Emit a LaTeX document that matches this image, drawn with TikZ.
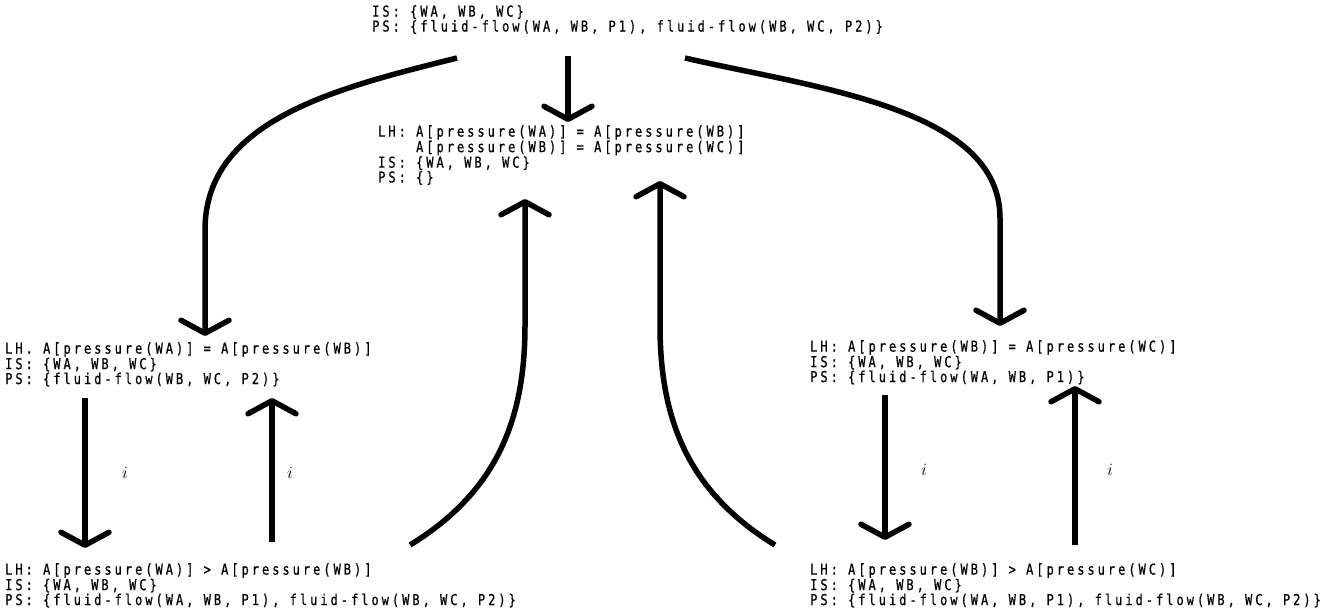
\documentclass[tikz,border=0pt]{standalone}
\usepackage{fontspec}
\setmonofont[FakeStretch=0.8,LetterSpace=20,FakeBold=0.6]{DejaVu Sans Mono}
\usetikzlibrary{arrows.meta}
\usetikzlibrary{calc}

\begin{document}
\begin{tikzpicture}[x=1pt,y=-1pt,
  state/.style={anchor=north west,inner sep=0pt,align=left,font=\ttfamily\fontsize{15}{12.5}\selectfont},
  link/.style={line width=5.5pt,-{Straight Barb[length=13pt,width=48pt,round]}},
  lbl/.style={font=\fontsize{18}{18}\selectfont}]
      \useasboundingbox (0,0) rectangle (1337,608);
      \node[state] (Top) at (372,5) {IS: \{WA, WB, WC\}\\PS: \{fluid-flow(WA, WB, P1), fluid-flow(WB, WC, P2)\}};
      \node[state] (Mid) at (378,125) {LH: A[pressure(WA)] = A[pressure(WB)]\\\hphantom{LH: }A[pressure(WB)] = A[pressure(WC)]\\IS: \{WA, WB, WC\}\\PS: \{\}};
      \node[state] (Left) at (5,342) {LH. A[pressure(WA)] = A[pressure(WB)]\\IS: \{WA, WB, WC\}\\PS: \{fluid-flow(WB, WC, P2)\}};
      \node[state] (Right) at (810,340) {LH: A[pressure(WB)] = A[pressure(WC)]\\IS: \{WA, WB, WC\}\\PS: \{fluid-flow(WA, WB, P1)\}};
      \node[state] (BL) at (5,563) {LH: A[pressure(WA)] > A[pressure(WB)]\\IS: \{WA, WB, WC\}\\PS: \{fluid-flow(WA, WB, P1), fluid-flow(WB, WC, P2)\}};
      \node[state] (BR) at (810,563) {LH: A[pressure(WB)] > A[pressure(WC)]\\IS: \{WA, WB, WC\}\\PS: \{fluid-flow(WA, WB, P1), fluid-flow(WB, WC, P2)\}};
      \node[lbl] (IL1) at (125,473) {$i$};
      \node[lbl] (IL2) at (290,473) {$i$};
      \node[lbl] (IR1) at (924,470) {$i$};
      \node[lbl] (IR2) at (1110,470) {$i$};
      \draw[link] ($(Top.north west)+(196,51)$) -- ($(Mid.north west)+(190,-3)$);
      \draw[link] ($(Top.north west)+(85,53)$) .. controls +(-120,30) and +(0,-110) .. ($(Left.north west)+(200,-112)$) -- ($(Left.north west)+(200,-6)$);
      \draw[link] ($(Top.north west)+(313,53)$) .. controls +(130,30) and +(0,-110) .. ($(Right.north west)+(190,-122)$) -- ($(Right.north west)+(190,-14)$);
      \draw[link] ($(Left.north west)+(80,56)$) -- ($(BL.north west)+(80,-15)$);
      \draw[link] ($(BL.north west)+(267,-21)$) -- ($(Left.north west)+(267,56)$);
      \draw[link] ($(BL.north west)+(405,-18)$) .. controls +(90,-55) and +(0,90) .. ($(Mid.north west)+(147,200)$) -- ($(Mid.north west)+(147,74)$);
      \draw[link] ($(BR.north west)+(-35,-18)$) .. controls +(-90,-55) and +(0,90) .. ($(Mid.north west)+(282,200)$) -- ($(Mid.north west)+(282,56)$);
      \draw[link] ($(Right.north west)+(75,55)$) -- ($(BR.north west)+(75,-23)$);
      \draw[link] ($(BR.north west)+(265,-18)$) -- ($(Right.north west)+(265,46)$);
    \end{tikzpicture}
\end{document}
